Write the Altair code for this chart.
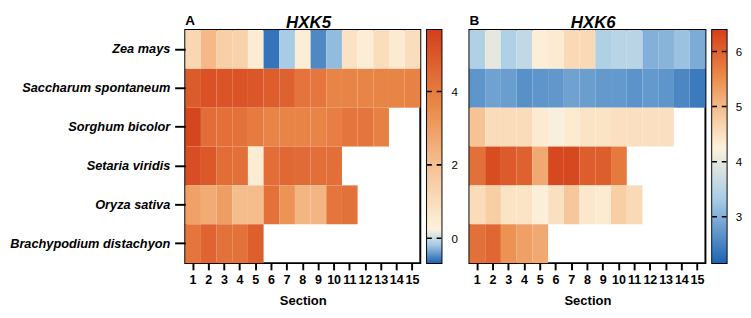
import altair as alt
import pandas as pd

species = ["Zea mays", "Saccharum spontaneum", "Sorghum bicolor",
           "Setaria viridis", "Oryza sativa", "Brachypodium distachyon"]
sections = list(range(1, 16))

hxk5_zea = [1.2, 2.2, 1.5, 1.4, 0.45, -0.6, -0.17, 0.4, -0.5, -0.25, 0.8, 0.4, 1.0, 0.5, 1.0]
hxk5_sac = [4.9, 5.2, 5.1, 5.1, 5.05, 4.85, 4.7, 4.2, 4.1, 3.75, 3.75, 3.75, 3.75, 3.75, 3.8]
hxk5_sor = [5.5, 4.4, 4.3, 4.25, 4.0, 3.75, 3.75, 3.75, 3.75, 3.9, 4.15, 4.15, 3.85]
hxk5_set = [5.3, 5.0, 4.4, 4.3, 0.45, 4.4, 4.55, 4.45, 4.35, 4.35]
hxk5_ory = [2.9, 2.6, 3.0, 2.1, 2.1, 4.25, 3.3, 2.3, 2.3, 4.15, 4.25]
hxk5_bra = [4.15, 4.65, 4.25, 4.25, 4.8]

hxk6_zea = [3.4, 4.0, 3.4, 3.6, 4.3, 4.35, 4.6, 4.6, 3.4, 3.5, 3.5, 3.0, 3.05, 3.2, 2.95]
hxk6_sac = [2.7, 2.85, 2.8, 2.65, 2.7, 2.72, 2.85, 2.8, 2.75, 2.75, 2.68, 2.75, 2.7, 2.55, 2.4]
hxk6_sor = [4.9, 4.55, 4.55, 4.55, 4.35, 4.2, 4.35, 4.45, 4.45, 4.5, 4.5, 4.5, 4.5]
hxk6_set = [5.85, 6.25, 6.1, 6.0, 5.2, 6.3, 6.3, 6.05, 6.05, 5.75]
hxk6_ory = [4.55, 4.75, 4.45, 4.45, 4.3, 4.5, 4.85, 4.4, 4.35, 4.75, 4.6]
hxk6_bra = [5.85, 5.95, 5.45, 5.3, 5.2]

# colour ramp: deep blue -> light blue -> cream -> light orange -> orange -> dark orange
ramp_colors = ["#1d64b2", "#a8cce6", "#fdf2dc", "#f6c496", "#eb8c4b", "#d4401a"]
hxk5_stops = [-0.68, -0.17, 0.25, 1.88, 3.51, 5.68]
hxk6_stops = [2.16, 3.31, 4.25, 4.89, 5.53, 6.39]
hxk5_ticks = [0, 2, 4]
hxk6_ticks = [3, 4, 5, 6]

FONT = "Liberation Sans"
H, BW = 242, 15


def frame(rows):
    recs = []
    for sp, vals in zip(species, rows):
        for i, v in enumerate(vals):
            recs.append({"Species": sp, "Section": sections[i], "Value": v})
    return pd.DataFrame(recs)


def heatmap(rows, stops, gene, letter, show_y, width):
    df = frame(rows)
    yaxis = alt.Axis(title=None, domain=False, ticks=True, tickSize=11, tickWidth=2,
                     tickColor="black", labelFont=FONT, labelFontSize=13.25,
                     labelFontWeight="bold", labelFontStyle="italic", labelColor="black",
                     labelPadding=5) if show_y else None
    rect = alt.Chart(df).mark_rect().encode(
        x=alt.X("Section:O", scale=alt.Scale(domain=sections),
                axis=alt.Axis(title="Section", labelAngle=0, domain=False, tickSize=7,
                              tickWidth=2, tickColor="black", labelFont=FONT,
                              labelFontSize=13, labelFontWeight="bold", labelColor="black",
                              labelPadding=4, labelOverlap=False, titleFont=FONT,
                              titleFontSize=13.5, titleFontWeight="bold", titleColor="black",
                              titlePadding=8)),
        y=alt.Y("Species:N", scale=alt.Scale(domain=species), axis=yaxis),
        color=alt.Color("Value:Q", legend=None,
                        scale=alt.Scale(domain=stops, range=ramp_colors, interpolate="rgb")),
    )
    lab = alt.Chart(pd.DataFrame({"t": [letter]})).mark_text(
        align="left", baseline="alphabetic", font=FONT, fontSize=14, fontWeight="bold",
        color="black").encode(text="t:N", x=alt.value(0), y=alt.value(-5))
    ttl = alt.Chart(pd.DataFrame({"t": [gene]})).mark_text(
        align="center", baseline="alphabetic", font=FONT, fontSize=17.5, fontWeight="bold",
        fontStyle="italic", color="black").encode(
        text="t:N", x=alt.value(width / 2 + 6), y=alt.value(-2))
    return alt.layer(rect, lab, ttl).properties(width=width, height=H)


def colorbar(stops, ticks, pad):
    lo, hi = stops[0], stops[-1]
    grad = alt.Gradient(
        gradient="linear",
        stops=[alt.GradientStop(offset=(s - lo) / (hi - lo), color=c)
               for s, c in zip(stops, ramp_colors)],
        x1=0, x2=0, y1=1, y2=0)
    yscale = alt.Scale(domain=[lo, hi], nice=False, zero=False)
    bar = alt.Chart(pd.DataFrame({"lo": [lo], "hi": [hi]})).mark_rect(color=grad).encode(
        x=alt.value(0), x2=alt.value(BW),
        y=alt.Y("lo:Q", scale=yscale,
                axis=alt.Axis(orient="right", values=ticks, format="d", title=None,
                              ticks=False, tickSize=0, domain=False, grid=False,
                              labelFont=FONT, labelFontSize=12, labelColor="black",
                              labelPadding=pad)),
        y2="hi:Q")
    tk = alt.Chart(pd.DataFrame({"v": ticks})).mark_rule(
        color="black", strokeWidth=1.6, strokeDash=[5, 5]).encode(
        y=alt.Y("v:Q", scale=yscale), x=alt.value(0), x2=alt.value(BW))
    return alt.layer(bar, tk).properties(width=BW, height=H)


h5 = heatmap([hxk5_zea, hxk5_sac, hxk5_sor, hxk5_set, hxk5_ory, hxk5_bra],
             hxk5_stops, "HXK5", "A", True, 244)
h6 = heatmap([hxk6_zea, hxk6_sac, hxk6_sor, hxk6_set, hxk6_ory, hxk6_bra],
             hxk6_stops, "HXK6", "B", False, 245)

left = alt.hconcat(h5, colorbar(hxk5_stops, hxk5_ticks, 10), spacing=4).resolve_scale(
    color="independent", y="independent")
right = alt.hconcat(h6, colorbar(hxk6_stops, hxk6_ticks, 9), spacing=3).resolve_scale(
    color="independent", y="independent")

chart = alt.hconcat(left, right, spacing=10).resolve_scale(
    color="independent", y="independent").properties(
    padding=0, background="white").configure_view(stroke="black", strokeWidth=2)

chart.save("out.html", embed_options={"renderer": "svg", "actions": False})
